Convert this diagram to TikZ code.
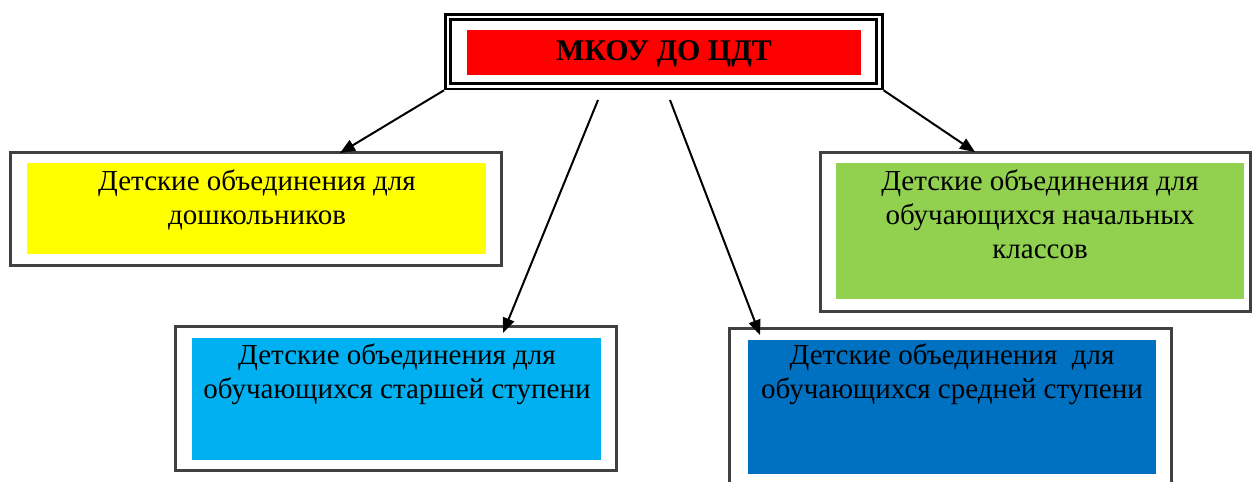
\documentclass[tikz,border=0pt]{standalone}
\usepackage{fontspec}
\setmainfont{Liberation Serif}
\usetikzlibrary{arrows.meta,fit}
\definecolor{frm}{HTML}{404040}
\definecolor{cred}{HTML}{FF0000}
\definecolor{cyel}{HTML}{FFFF00}
\definecolor{cgrn}{HTML}{92D050}
\definecolor{ccya}{HTML}{00B0F0}
\definecolor{cblu}{HTML}{0070C0}
\tikzset{
  frame/.style={draw=frm,line width=3pt,inner sep=0pt,fit={#1}},
  topframe/.style={draw=black,line width=2.6pt,inner sep=0pt,fit={#1}},
  fillbox/.style={inner sep=0pt,draw=none,fit={#1}},
  lbl/.style={anchor=base,align=center,inner sep=0pt,font=\fontsize{29}{34}\selectfont},
  ttl/.style={anchor=base,inner sep=0pt,font=\fontsize{30}{34}\selectfont\bfseries},
  arr/.style={draw=black,line width=2pt,-{Triangle[length=15pt,width=12pt]}}
}
\begin{document}
\begin{tikzpicture}[x=1pt,y=-1pt]
\useasboundingbox (0,0) rectangle (1256,482);
% top box
\node[topframe={(445.3,14.2) (882.3,89)}] (topo) {};
\node[topframe={(450.5,19.7) (876.7,83.7)}] (topi) {};
\node[fillbox={(467,30) (861,75)},fill=cred] (topf) {};
\node[ttl] (ttl) at (664,60) {МКОУ ДО ЦДТ};
% frames
\node[frame={(10,152) (501,265)}] (f1) {};
\node[frame={(820,152) (1250,311)}] (f4) {};
\node[frame={(175,326) (616,470)}] (f2) {};
\node[frame={(729,328) (1171,500)}] (f3) {};
% fills
\node[fillbox={(27,163) (486,254)},fill=cyel] (b1) {};
\node[fillbox={(836,163) (1244,299)},fill=cgrn] (b4) {};
\node[fillbox={(192,338) (601,460)},fill=ccya] (b2) {};
\node[fillbox={(748,340) (1156,474)},fill=cblu] (b3) {};
% texts
\node[lbl] (t1) at (257,224) {Детские объединения для\\дошкольников};
\node[lbl] (t4) at (1040,258) {Детские объединения для\\обучающихся начальных\\классов};
\node[lbl] (t2) at (397,398) {Детские объединения для\\обучающихся старшей ступени};
\node[lbl] (t3) at (952,398) {Детские объединения\ \ для\\обучающихся средней ступени};
% arrow end points
\coordinate (s2) at (598,100);
\coordinate (s3) at (670,100);
\coordinate (e1) at (340,153);
\coordinate (e2) at (503,333);
\coordinate (e3) at (760,335);
\coordinate (e4) at (975,152);
\draw[arr] (topo.south west) -- (e1);
\draw[arr] (s2) -- (e2);
\draw[arr] (s3) -- (e3);
\draw[arr] (topo.south east) -- (e4);
\end{tikzpicture}
\end{document}
